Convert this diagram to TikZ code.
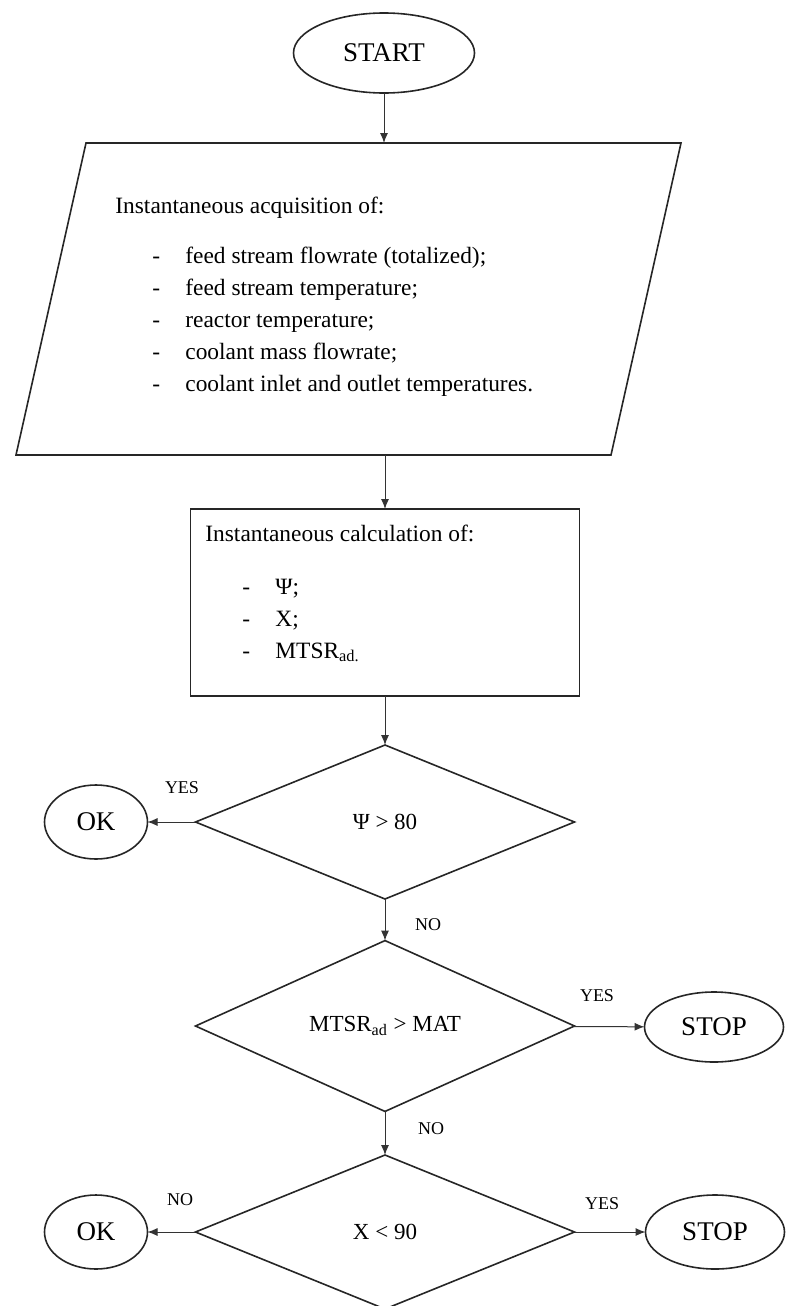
\documentclass[tikz,border=0pt]{standalone}
\usepackage{fontspec}
\setmainfont{Liberation Serif}
\usetikzlibrary{arrows.meta}
\usetikzlibrary{shapes.geometric}

\begin{document}
\begin{tikzpicture}[x=0.5pt,y=-0.5pt,
    box/.style={draw=black!85,line width=0.8pt,inner sep=0pt,outer sep=0pt},
    term/.style={box,ellipse,font=\fontsize{13.5}{16}\selectfont},
    test/.style={box,diamond,minimum width=189.5pt,minimum height=77pt,font=\fontsize{11.5}{14}\selectfont},
    flow/.style={black!80,line width=0.5pt,-{Latex[length=5pt,width=4pt]}},
    answer/.style={inner sep=0pt,font=\fontsize{9}{11}\selectfont},
    item/.style={anchor=base west,inner sep=0pt,font=\fontsize{11.7}{14}\selectfont}]
\useasboundingbox (0,0) rectangle (786,1306);

% start, data input and calculation blocks
\node[term,minimum width=90.5pt,minimum height=40pt] (start) at (384,53) {START};

\coordinate (acqtl) at (86,143);
\coordinate (acqtr) at (681,143);
\coordinate (acqbr) at (611,455);
\coordinate (acqbl) at (16,455);
\coordinate (acqtop) at (384,143);
\coordinate (acqbot) at (385,455);
\draw[draw=black!85,line width=0.8pt] (acqtl) -- (acqtr) -- (acqbr) -- (acqbl) -- cycle;

\node[box,minimum width=194.5pt,minimum height=93.5pt] (calc) at (385,602.5) {};

\node[item] (acqhead) at (115,213) {Instantaneous acquisition of:};
\foreach \y/\txt in {263/{feed stream flowrate (totalized);},295/{feed stream temperature;},
    327/{reactor temperature;},359/{coolant mass flowrate;},391/{coolant inlet and outlet temperatures.}}
  {\node[item] at (152,\y) {-}; \node[item] at (185,\y) {\txt};}

\node[item] (calchead) at (205,541) {Instantaneous calculation of:};
\foreach \y/\txt in {594/{Ψ;},626/{X;},658/{MTSR\textsubscript{ad.}}}
  {\node[item] at (242,\y) {-}; \node[item] at (275,\y) {\txt};}

% decisions
\node[test] (psi) at (385,822) {Ψ > 80};
\node[test,minimum height=76pt] (mtsr) at (385,1026) {MTSR\textsubscript{ad} > MAT};
\node[test] (conv) at (385,1232) {X < 90};

% outcomes
\node[term,minimum width=51.5pt,minimum height=37pt] (ok1) at (96,822) {OK};
\node[term,minimum width=69.5pt,minimum height=35pt] (stop1) at (714,1027) {STOP};
\node[term,minimum width=51.5pt,minimum height=37pt] (ok2) at (96,1232) {OK};
\node[term,minimum width=69.5pt,minimum height=37pt] (stop2) at (715,1232) {STOP};

% connectors
\draw[flow] (start) -- (acqtop);
\draw[flow] (acqbot) -- (calc);
\draw[flow] (calc) -- (psi);
\draw[flow] (psi) -- (ok1);
\draw[flow] (psi) -- (mtsr);
\draw[flow] (mtsr) -- (stop1);
\draw[flow] (mtsr) -- (conv);
\draw[flow] (conv) -- (ok2);
\draw[flow] (conv) -- (stop2);

\node[answer] (yes1) at (182,788) {YES};
\node[answer] (no1) at (428,925) {NO};
\node[answer] (yes2) at (597,996) {YES};
\node[answer] (no2) at (431,1129) {NO};
\node[answer] (no3) at (180,1200) {NO};
\node[answer] (yes3) at (602,1204) {YES};
\end{tikzpicture}
\end{document}
